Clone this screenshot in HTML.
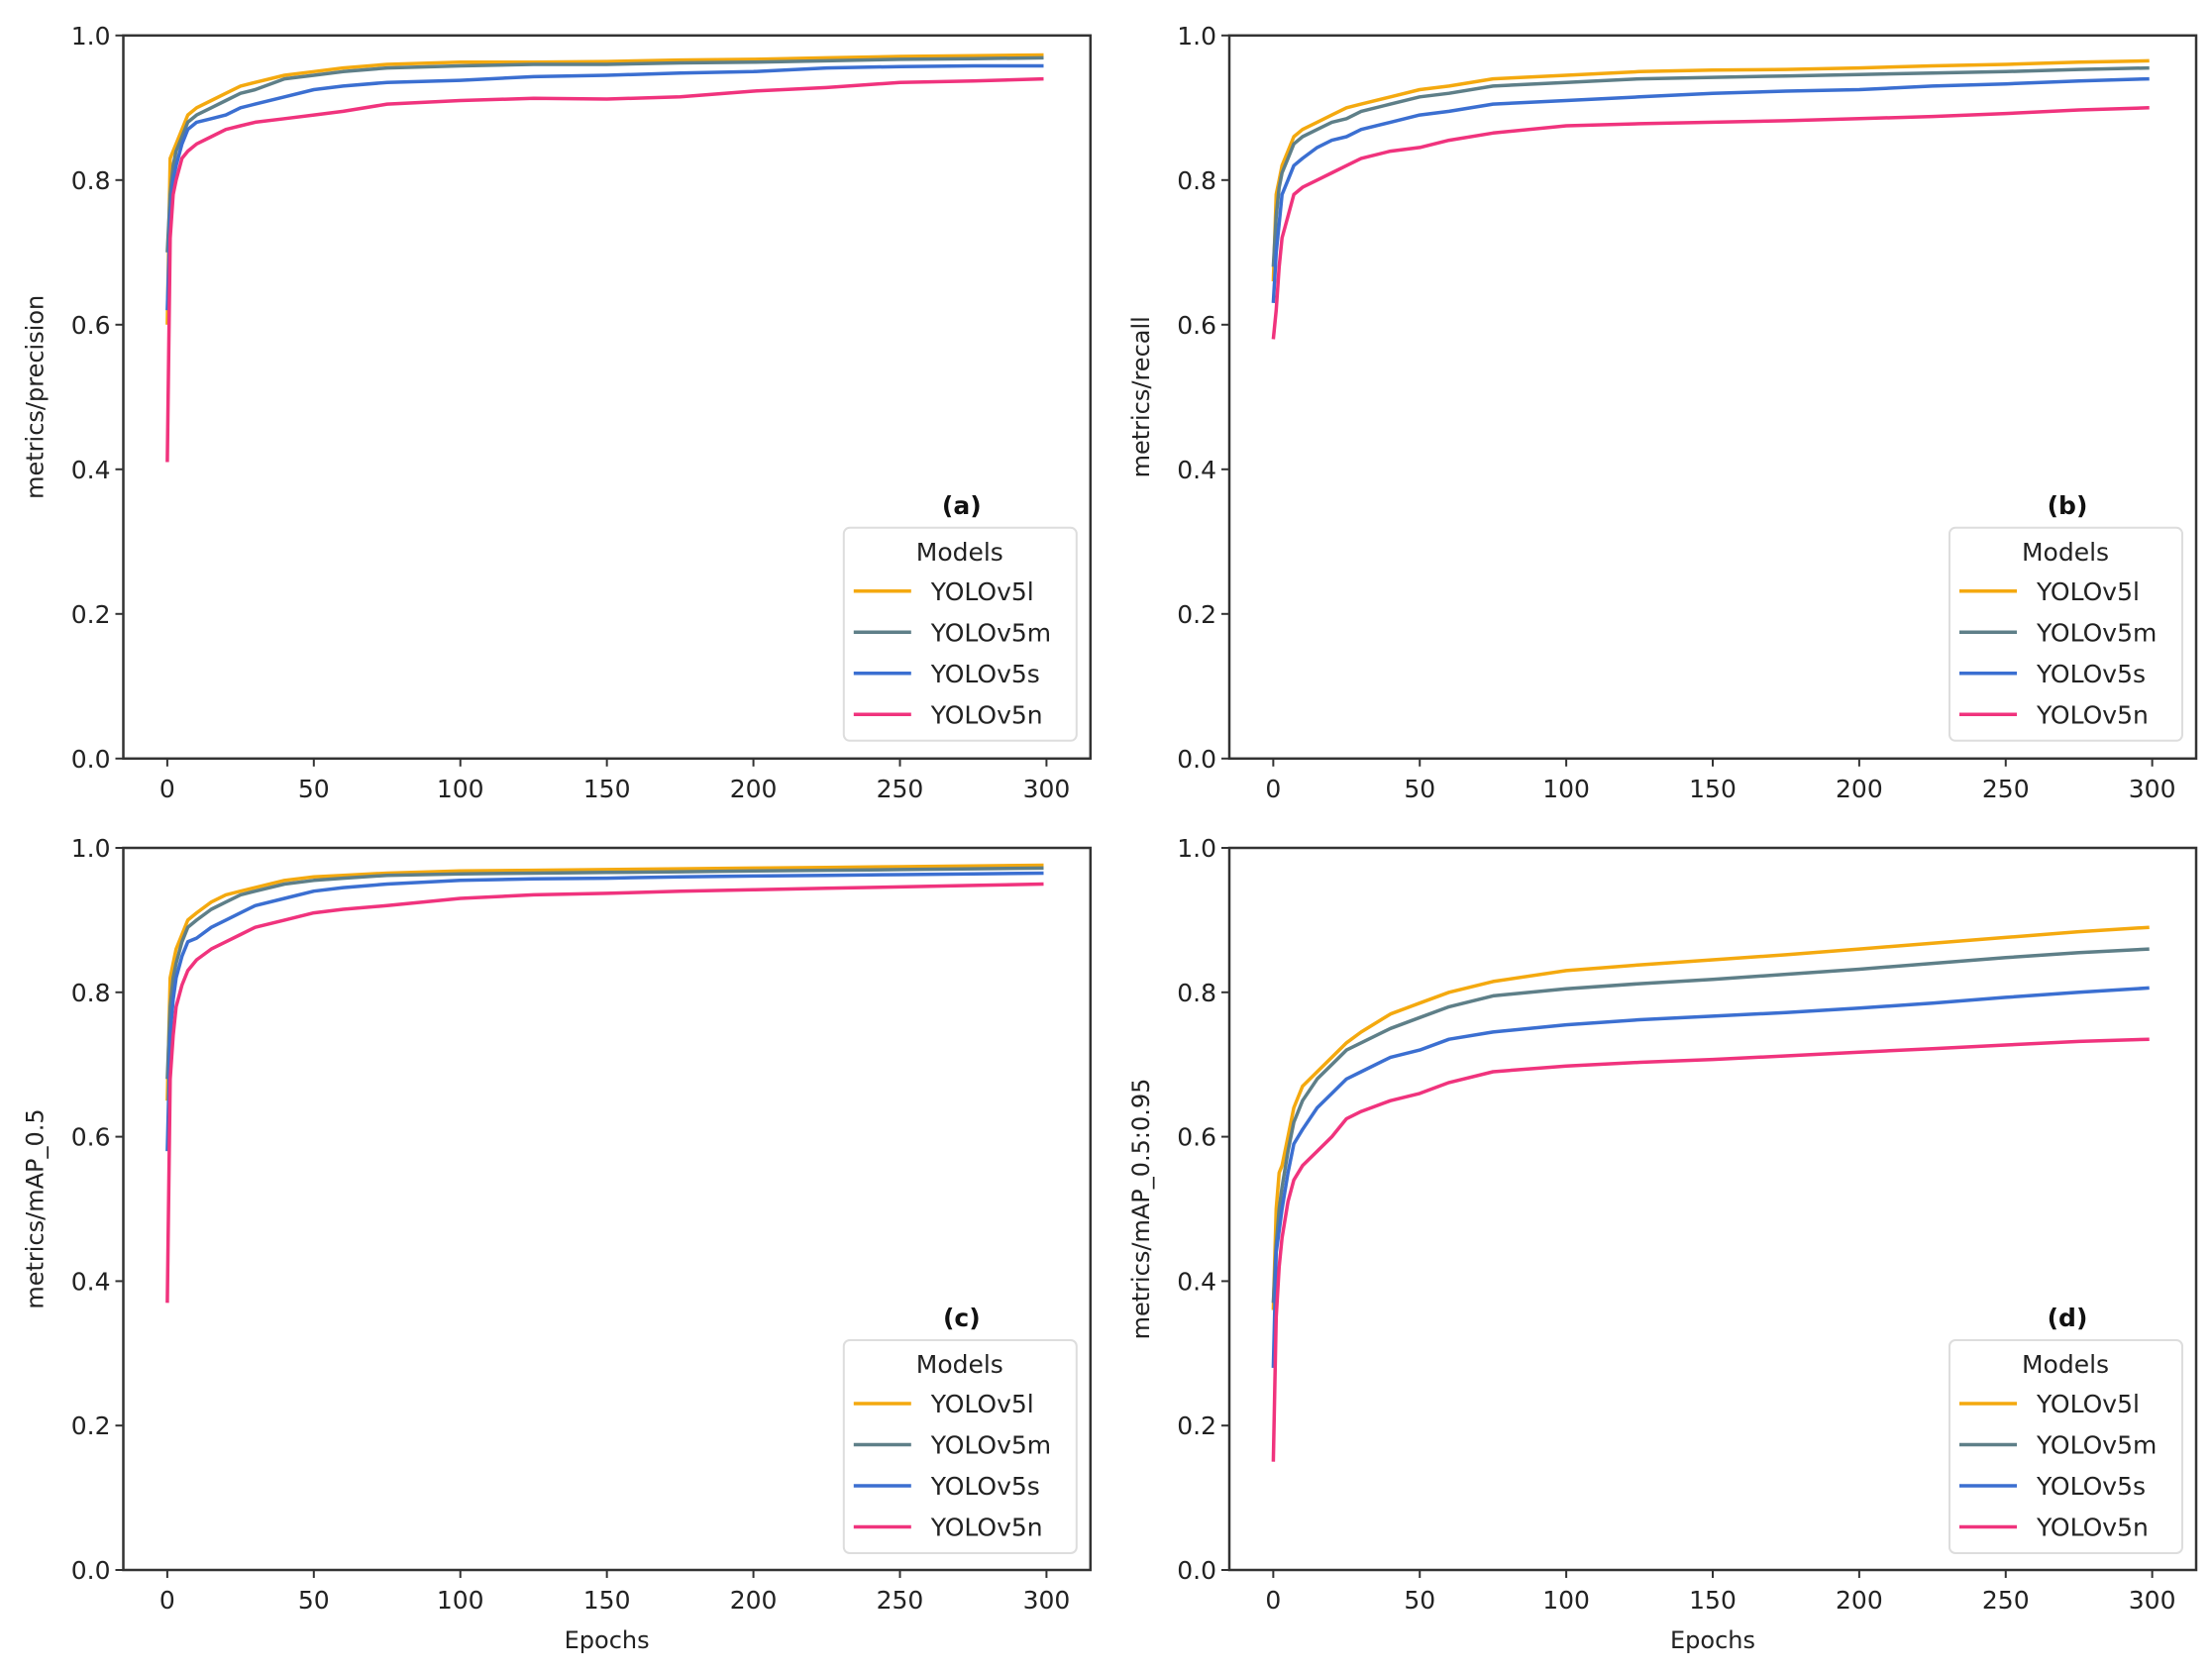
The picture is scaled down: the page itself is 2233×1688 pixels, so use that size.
<!DOCTYPE html>
<html><head><meta charset="utf-8">
<style>
html,body{margin:0;padding:0;background:#fff;}
svg{display:block;font-family:"DejaVu Sans","Liberation Sans",sans-serif;}
</style></head>
<body>
<svg id="fig" width="2233" height="1688" viewBox="0 0 2233 1688" xmlns="http://www.w3.org/2000/svg"></svg>
<script>
const epochs = [0,1,2,3,5,7,10,15,20,25,30,40,50,60,75,100,125,150,175,200,225,250,275,299];
const models = ["YOLOv5l","YOLOv5m","YOLOv5s","YOLOv5n"];
const xTicks = [0,50,100,150,200,250,300];
const yTicks = [0.0,0.2,0.4,0.6,0.8,1.0];
const precisionL = [0.60,0.83,0.84,0.85,0.87,0.89,0.90,0.91,0.92,0.93,0.935,0.945,0.95,0.955,0.96,0.963,0.963,0.964,0.966,0.967,0.969,0.971,0.972,0.973];
const precisionM = [0.70,0.78,0.82,0.84,0.86,0.88,0.89,0.90,0.91,0.92,0.925,0.94,0.945,0.95,0.955,0.958,0.96,0.96,0.962,0.963,0.965,0.967,0.968,0.969];
const precisionS = [0.62,0.75,0.80,0.82,0.85,0.87,0.88,0.885,0.89,0.90,0.905,0.915,0.925,0.93,0.935,0.938,0.943,0.945,0.948,0.95,0.955,0.957,0.958,0.958];
const precisionN = [0.41,0.72,0.78,0.80,0.83,0.84,0.85,0.86,0.87,0.875,0.88,0.885,0.89,0.895,0.905,0.91,0.913,0.912,0.915,0.923,0.928,0.935,0.937,0.94];
const recallL = [0.66,0.78,0.80,0.82,0.84,0.86,0.87,0.88,0.89,0.90,0.905,0.915,0.925,0.93,0.94,0.945,0.95,0.952,0.953,0.955,0.958,0.96,0.963,0.965];
const recallM = [0.68,0.75,0.79,0.81,0.83,0.85,0.86,0.87,0.88,0.885,0.895,0.905,0.915,0.92,0.93,0.935,0.94,0.942,0.944,0.946,0.948,0.95,0.953,0.955];
const recallS = [0.63,0.70,0.74,0.78,0.80,0.82,0.83,0.845,0.855,0.86,0.87,0.88,0.89,0.895,0.905,0.91,0.915,0.92,0.923,0.925,0.93,0.933,0.937,0.94];
const recallN = [0.58,0.62,0.68,0.72,0.75,0.78,0.79,0.80,0.81,0.82,0.83,0.84,0.845,0.855,0.865,0.875,0.878,0.88,0.882,0.885,0.888,0.892,0.897,0.90];
const map50L = [0.65,0.82,0.84,0.86,0.88,0.90,0.91,0.925,0.935,0.94,0.945,0.955,0.96,0.962,0.965,0.968,0.969,0.97,0.971,0.972,0.973,0.974,0.975,0.976];
const map50M = [0.68,0.78,0.82,0.84,0.87,0.89,0.90,0.915,0.925,0.935,0.94,0.95,0.955,0.958,0.962,0.964,0.965,0.966,0.967,0.968,0.969,0.97,0.971,0.972];
const map50S = [0.58,0.74,0.79,0.82,0.85,0.87,0.875,0.89,0.90,0.91,0.92,0.93,0.94,0.945,0.95,0.955,0.957,0.958,0.96,0.961,0.962,0.963,0.964,0.965];
const map50N = [0.37,0.68,0.74,0.78,0.81,0.83,0.845,0.86,0.87,0.88,0.89,0.90,0.91,0.915,0.92,0.93,0.935,0.937,0.94,0.942,0.944,0.946,0.948,0.95];
const map95L = [0.36,0.50,0.55,0.56,0.60,0.64,0.67,0.69,0.71,0.73,0.745,0.77,0.785,0.80,0.815,0.83,0.838,0.845,0.852,0.86,0.868,0.876,0.884,0.89];
const map95M = [0.37,0.45,0.50,0.53,0.58,0.62,0.65,0.68,0.70,0.72,0.73,0.75,0.765,0.78,0.795,0.805,0.812,0.818,0.825,0.832,0.84,0.848,0.855,0.86];
const map95S = [0.28,0.44,0.47,0.50,0.55,0.59,0.61,0.64,0.66,0.68,0.69,0.71,0.72,0.735,0.745,0.755,0.762,0.767,0.772,0.778,0.785,0.793,0.80,0.806];
const map95N = [0.15,0.35,0.42,0.46,0.51,0.54,0.56,0.58,0.60,0.625,0.635,0.65,0.66,0.675,0.69,0.698,0.703,0.707,0.712,0.717,0.722,0.727,0.732,0.735];

const colors = ["#f4a90f","#5e7f88","#3b6fd1","#f0337d"];
const NS = "http://www.w3.org/2000/svg";
const svg = document.getElementById('fig');
function mk(tag, attrs, parent){const e=document.createElementNS(NS,tag);for(const k in attrs)e.setAttribute(k,attrs[k]);(parent||svg).appendChild(e);return e;}

const panels = [
 {id:"a", ylabel:"metrics/precision", x0:124.5, x1:1100.8, y0:35.8, y1:765.8, series:[precisionL,precisionM,precisionS,precisionN], xlabel:false},
 {id:"b", ylabel:"metrics/recall", x0:1241, x1:2217, y0:35.8, y1:765.8, series:[recallL,recallM,recallS,recallN], xlabel:false},
 {id:"c", ylabel:"metrics/mAP_0.5", x0:124.5, x1:1100.8, y0:856, y1:1585, series:[map50L,map50M,map50S,map50N], xlabel:true},
 {id:"d", ylabel:"metrics/mAP_0.5:0.95", x0:1241, x1:2217, y0:856, y1:1585, series:[map95L,map95M,map95S,map95N], xlabel:true}
];

panels.forEach(p=>{
  const g = mk('g',{});
  
  
  const sx = v => p.x0 + (v + 15) / 330 * (p.x1 - p.x0);
  const sy = v => p.y1 - v * (p.y1 - p.y0);
  p.series.forEach((vals,i)=>{
    const d = vals.map((v,j)=>(j?'L':'M')+sx(epochs[j]).toFixed(1)+','+sy(v).toFixed(1)).join(' ');
    const path = mk('path',{d:d, fill:'none', stroke:colors[i], 'stroke-width':3.5, 'stroke-linejoin':'round'}, g);
    
    
  });
  const fr = mk('rect',{x:p.x0,y:p.y0,width:p.x1-p.x0,height:p.y1-p.y0,fill:'none',stroke:'#333','stroke-width':2.5}, g);
  
  
  xTicks.forEach(t=>{
    const x = sx(t);
    mk('line',{x1:x,x2:x,y1:p.y1,y2:p.y1+8,stroke:'#333','stroke-width':2}, g);
    const tx = mk('text',{x:x,y:p.y1+39,'text-anchor':'middle','font-size':25,fill:'#222'}, g);
    tx.textContent = t;
    
    
  });
  yTicks.forEach(t=>{
    const y = sy(t);
    mk('line',{x1:p.x0-8,x2:p.x0,y1:y,y2:y,stroke:'#333','stroke-width':2}, g);
    const tx = mk('text',{x:p.x0-13,y:y+9,'text-anchor':'end','font-size':25,fill:'#222'}, g);
    tx.textContent = t.toFixed(1);
    
    
  });
  const cy = (p.y0+p.y1)/2;
  const yl = mk('text',{x:p.x0-81,y:cy,'text-anchor':'middle','font-size':24,fill:'#222',transform:`rotate(-90 ${p.x0-81} ${cy})`}, g);
  yl.textContent = p.ylabel;
  
  
  if(p.xlabel){
    const xl = mk('text',{x:(p.x0+p.x1)/2,y:p.y1+79,'text-anchor':'middle','font-size':24,fill:'#222'}, g);
    xl.textContent = 'Epochs';
    
    
  }
  const lx = p.x1 - 249, ly = p.y0 + 497;
  const tag = mk('text',{x:lx+119,y:ly-14,'text-anchor':'middle','font-size':25,'font-weight':'bold',fill:'#111'}, g);
  tag.textContent = '('+p.id+')';
  
  
  const lg = mk('g',{}, g);
  
  
  mk('rect',{x:lx,y:ly,width:235,height:215,rx:6,fill:'#fff','fill-opacity':0.85,stroke:'#ddd','stroke-width':2}, lg);
  const lt = mk('text',{x:lx+117,y:ly+33,'text-anchor':'middle','font-size':25,fill:'#222'}, lg);
  lt.textContent = 'Models';
  
  
  models.forEach((m,i)=>{
    const yy = ly + 64 + i*41.5;
    const e = mk('g',{}, lg);
    
    
    mk('line',{x1:lx+10,x2:lx+68,y1:yy,y2:yy,stroke:colors[i],'stroke-width':3.5}, e);
    const t = mk('text',{x:lx+88,y:yy+9,'font-size':25,fill:'#222'}, e);
    t.textContent = m;
  });
});
</script>
</body></html>
